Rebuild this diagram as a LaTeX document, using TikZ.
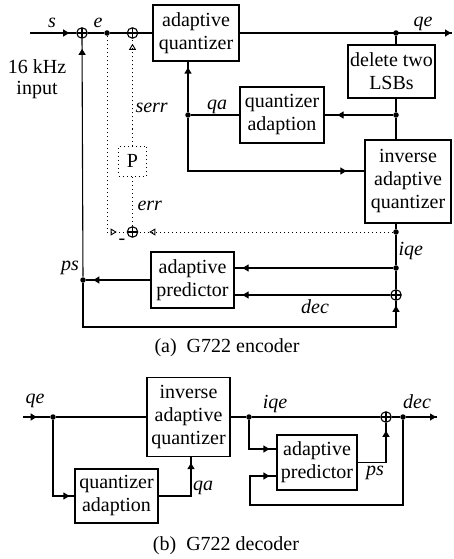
\documentclass[tikz,border=0pt]{standalone}
\usepackage{fontspec}
\setmainfont{Liberation Serif}
\usetikzlibrary{arrows.meta,calc,decorations.markings}

\begin{document}
\begin{tikzpicture}[x=1pt, y=-1pt, line width=1.1pt,
    blk/.style={draw, align=center, inner sep=1pt, font=\fontsize{20}{23}\selectfont},
    sumnode/.style={draw, circle, minimum size=10.5pt, inner sep=0pt,
        path picture={\draw (path picture bounding box.north) -- (path picture bounding box.south)
            (path picture bounding box.west) -- (path picture bounding box.east);}},
    jn/.style={circle, fill, inner sep=0pt, minimum size=5.5pt},
    lbl/.style={font=\fontsize{20}{23}\selectfont\itshape, inner sep=0pt, anchor=base},
    txt/.style={font=\fontsize{20}{21}\selectfont, inner sep=0pt, align=center},
    dots/.style={line width=1pt, dash pattern=on 1pt off 3pt},
    arr/.style={postaction={decorate}, decoration={markings,
        mark=at position -#1 with {\arrow{Triangle[length=6pt,width=7pt]}}}},
    arr/.default=6pt,
    oarr/.style={postaction={decorate}, decoration={markings,
        mark=at position -#1 with {\arrow[solid]{Triangle[open,length=6pt,width=7pt,line width=0.9pt]}}}},
    oarr/.default=6pt]
    \useasboundingbox (0,0) rectangle (453,559);

    % (a) encoder: blocks
    \node[sumnode] (sA) at (82,33) {};
    \node[jn] (dE) at (107,33) {};
    \node[sumnode] (sB) at (132.5,33) {};
    \node[blk, minimum width=86pt, minimum height=56pt] (aq) at (196,33) {adaptive\\quantizer};
    \node[jn] (dQE) at (396,33) {};
    \node[blk, minimum width=87pt, minimum height=53pt] (lsb) at (391.5,71.5) {delete two\\LSBs};
    \node[jn] (dQA) at (396,115) {};
    \node[blk, minimum width=84pt, minimum height=56pt] (qad) at (282,115) {quantizer\\adaption};
    \node[jn] (dqa) at (188,115) {};
    \node[blk, minimum width=86pt, minimum height=83pt] (iaq) at (408,181.5) {inverse\\adaptive\\quantizer};
    \node[jn] (dErr) at (396,232) {};
    \node[jn] (dIqe) at (396,268) {};
    \node[sumnode] (sC) at (396,295) {};
    \node[blk, minimum width=83pt, minimum height=56pt] (ap) at (192.5,280) {adaptive\\predictor};
    \node[jn] (dPs) at (83,280) {};
    \node[sumnode] (sD) at (132.5,232) {};
    \node[draw, dots, minimum width=28pt, minimum height=30pt, inner sep=0pt,
        font=\fontsize{20}{23}\selectfont] (P) at (132.5,161) {P};
    \coordinate (in) at (30,33);
    \coordinate (out) at (452,33);
    \coordinate (cB) at (396,327);

    % (a) encoder: connectors
    \draw[arr=7pt] (in) -- (sA);
    \draw (sA) -- (dE) -- (sB) -- (aq);
    \draw[arr=1pt] (aq) -- (out);
    \draw (dQE) -- (dQE |- lsb.north);
    \draw (lsb.south -| dQA) -- (dQA) -- (dQA |- iaq.north);
    \draw[arr=13pt] (dQA) -- (qad);
    \draw (qad) -- (dqa);
    \draw[arr] (dqa) -- (dqa |- aq.south);
    \draw[arr=18pt] (dqa) |- ([yshift=10.5pt]iaq.west);
    \draw (iaq.south -| dErr) -- (dErr) -- (dIqe) -- (sC);
    \draw[arr=8pt] (dIqe) -- (ap.east |- dIqe);
    \draw[arr=8pt] (sC) -- (ap.east |- sC);
    \draw[arr=7pt] (ap) -- (dPs);
    \draw[arr=10pt] (dPs) -- (sA);
    \draw[arr=5pt] (dPs) |- (cB) -- (sC);
    % dotted error path
    \draw[dots, oarr=10pt] (dE) |- (sD);
    \draw[dots, oarr=11pt] (dErr) -- (sD);
    \draw[dots] (sD) -- (P);
    \draw[dots, oarr=5pt] (P) -- (sB);

    % (a) labels
    \node[lbl] (ls) at (52,28) {s};
    \node[lbl] (le) at (98,28) {e};
    \node[lbl] (lqe) at (423,27) {qe};
    \node[txt] (lin) at (37,79) {16 kHz\\input};
    \node[lbl, anchor=base west] (lserr) at (135,113) {serr};
    \node[lbl, anchor=base west] (lerr) at (137,210) {err};
    \node[lbl] (lqa) at (217,110) {qa};
    \node[lbl, anchor=base west] (liqe) at (398,255) {iqe};
    \node[lbl] (ldec) at (315,313) {dec};
    \node[lbl] (lps) at (70,270) {ps};
    \node[txt] (lminus) at (122,242) {-};
    \node[txt, anchor=base] (capa) at (227,352) {(a)\ \ G722 encoder};

    % (b) decoder: blocks
    \coordinate (in2) at (23,417);
    \node[jn] (dQ2) at (53,417) {};
    \node[blk, minimum width=83pt, minimum height=79pt] (iaq2) at (188.5,417) {inverse\\adaptive\\quantizer};
    \node[blk, minimum width=83pt, minimum height=54pt] (qad2) at (116.5,496) {quantizer\\adaption};
    \node[jn] (dIq2) at (249,417) {};
    \node[sumnode] (sE) at (386,417) {};
    \node[jn] (dDec) at (403,417) {};
    \node[blk, minimum width=80pt, minimum height=55pt] (ap2) at (317,462.5) {adaptive\\predictor};
    \coordinate (out2) at (437,417);
    \coordinate (cL) at (250,505);

    % (b) decoder: connectors
    \draw[arr=13pt] (in2) -- (dQ2);
    \draw (dQ2) -- (iaq2);
    \draw[arr=5pt] (dQ2) |- (qad2);
    \draw[arr=6pt] (qad2) -| ([xshift=2.5pt]iaq2.south);
    \draw (iaq2) -- (dIq2) -- (sE) -- (dDec);
    \draw[arr=1pt] (dDec) -- (out2);
    \draw[arr=7pt] (dIq2) |- ([yshift=13.5pt]ap2.west);
    \draw[arr=8pt] (ap2) -| (sE);
    \draw[arr=7pt] (dDec) |- (cL) |- ([yshift=-13.5pt]ap2.west);

    % (b) labels
    \node[lbl] (lqe2) at (35,403) {qe};
    \node[lbl] (lqa2) at (203,490) {qa};
    \node[lbl] (liqe2) at (275,408) {iqe};
    \node[lbl] (ldec2) at (417,408) {dec};
    \node[lbl] (lps2) at (375,475) {ps};
    \node[txt, anchor=base] (capb) at (226,550) {(b)\ \ G722 decoder};
\end{tikzpicture}
\end{document}
